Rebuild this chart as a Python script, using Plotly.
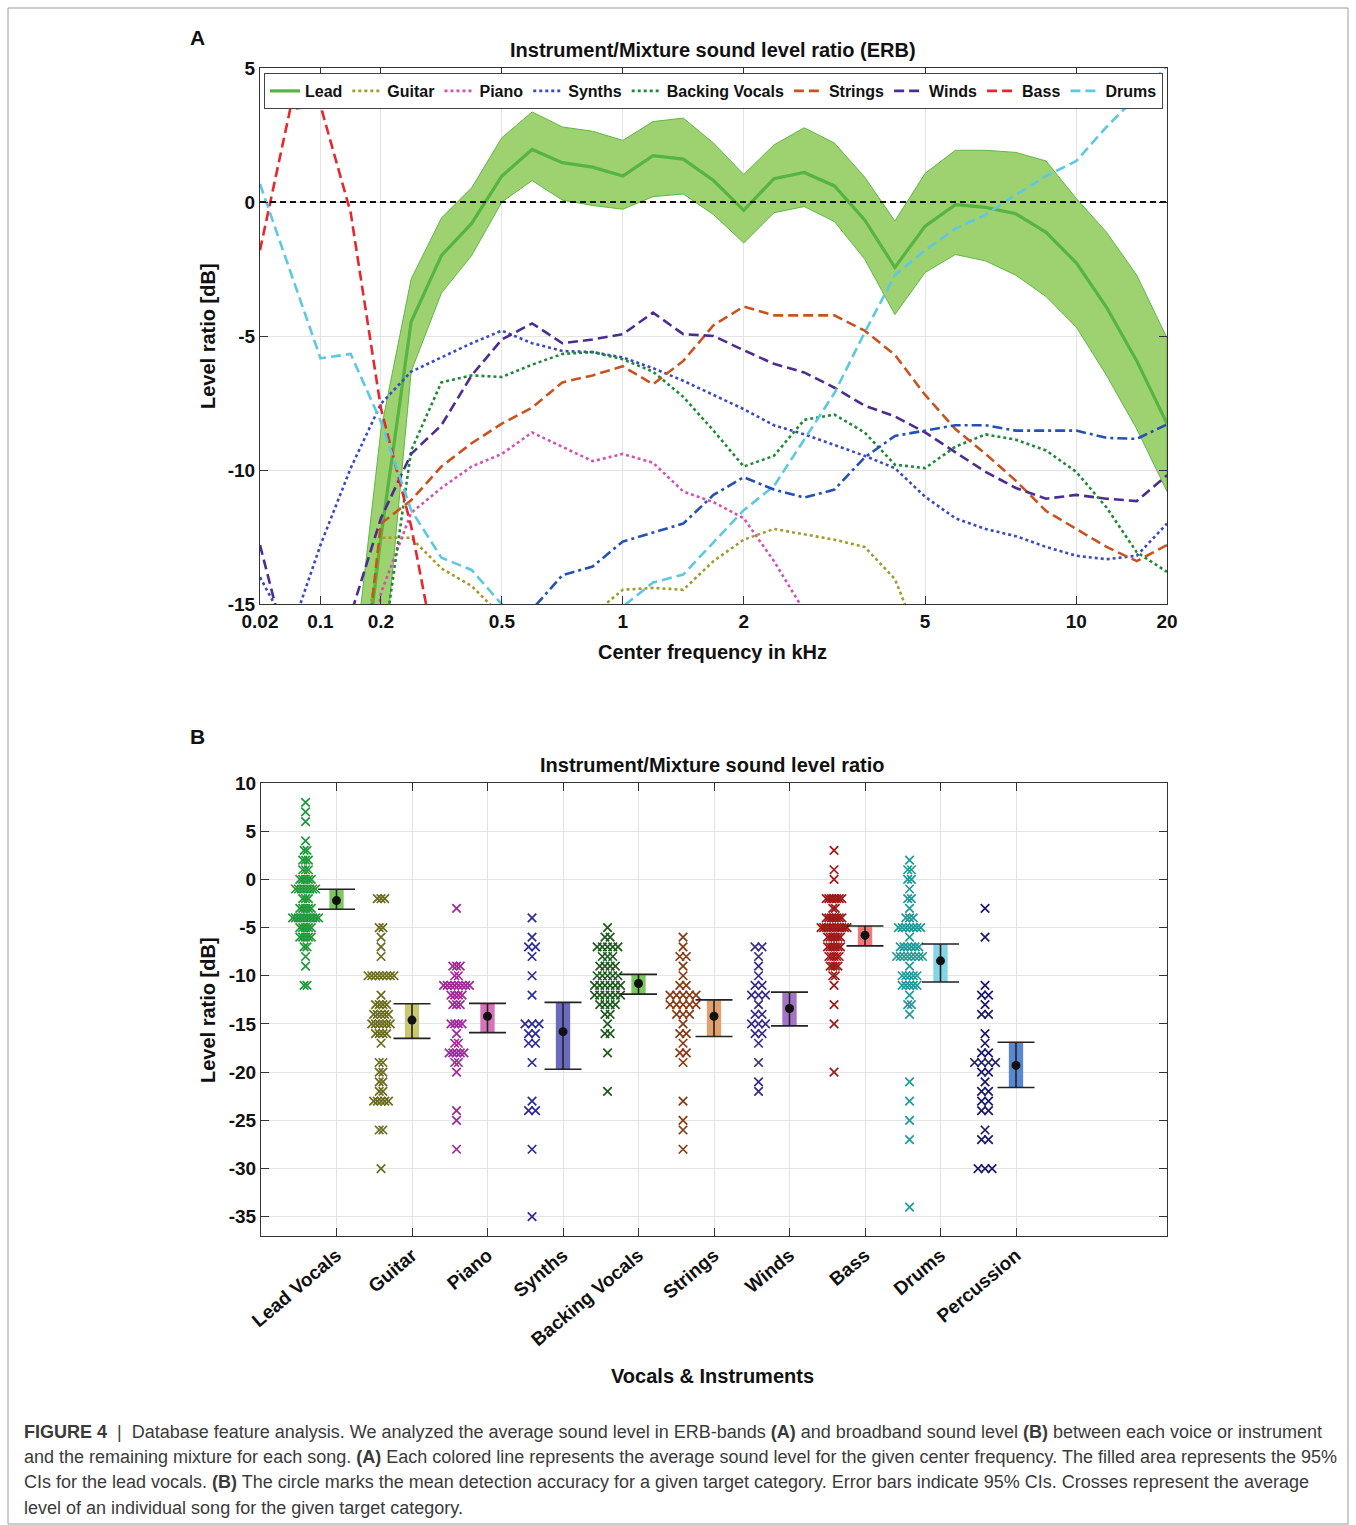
import plotly.graph_objects as go

W, H = 1356, 1525
FONT = "Liberation Sans, Arial, Helvetica, sans-serif"

# ---------------- Panel A data (ERB bands, index 0..30) ----------------
band_index = list(range(31))
freq_tick_pos = [0, 2, 4, 8, 12, 16, 22, 27, 30]
freq_tick_text = ["0.02", "0.1", "0.2", "0.5", "1", "2", "5", "10", "20"]
level_ticks_A = [-15, -10, -5, 0, 5]
level_ticks_A_text = ["-15", "-10", "-5", "0", "5"]

lead_mean = [None, None, None, -21.8, -12.5, -4.47, -2.0, -0.8, 0.97, 1.96, 1.47, 1.3, 0.97, 1.73, 1.6, 0.8,
             -0.31, 0.87, 1.1, 0.6, -0.67, -2.44, -0.9, -0.1, -0.2, -0.44, -1.13, -2.27, -3.93, -5.93, -8.27]
lead_upper = [None, None, None, -18.4, -8.5, -2.87, -0.6, 0.53, 2.4, 3.36, 2.8, 2.64, 2.3, 3.0, 3.13, 2.2,
              1.03, 2.13, 2.77, 2.2, 0.93, -0.71, 1.07, 1.93, 1.93, 1.85, 1.53, 0.13, -1.13, -2.73, -5.07]
lead_lower = [None, None, None, -26.0, -18.4, -6.33, -3.4, -2.0, 0.0, 0.8, 0.07, -0.13, -0.27, 0.2, 0.3, -0.47,
              -1.53, -0.4, -0.17, -0.73, -2.13, -4.2, -2.63, -1.96, -2.2, -2.73, -3.53, -4.67, -6.47, -8.47, -10.8]
guitar = [None, None, None, -20.0, -12.53, -12.53, -13.67, -14.33, -15.45, -16.5, -16.5, -15.4, -14.47, -14.4,
          -14.47, -13.4, -12.6, -12.2, -12.4, -12.6, -12.87, -14.07, -16.9, None, None, None, None, None, None,
          None, None]
piano = [None, None, None, -22.0, -14.6, -11.6, -10.67, -9.87, -9.4, -8.6, -9.13, -9.67, -9.4, -9.73, -10.8,
         -11.2, -11.8, -13.4, -15.26, None, None, None, None, None, None, None, None, None, None, None, None]
synths = [-14.0, -16.1, -12.8, -9.93, -7.53, -6.33, -5.8, -5.27, -4.8, -5.27, -5.56, -5.6, -5.8, -6.2, -6.67,
          -7.2, -7.73, -8.33, -8.67, -9.07, -9.47, -9.93, -11.0, -11.8, -12.2, -12.47, -12.87, -13.2, -13.33,
          -13.2, -12.0]
backing_vocals = [None, None, None, None, -17.2, -9.27, -6.73, -6.47, -6.53, -6.07, -5.67, -5.6, -5.87, -6.33,
                  -7.27, -8.53, -9.87, -9.47, -8.13, -7.93, -8.6, -9.8, -9.93, -9.13, -8.67, -8.87, -9.27,
                  -10.07, -11.4, -13.07, -13.8]
strings = [None, None, None, -22.0, -12.0, -11.13, -9.87, -9.0, -8.27, -7.67, -6.73, -6.47, -6.13, -6.8, -5.93,
           -4.6, -3.9, -4.23, -4.23, -4.23, -4.8, -5.7, -7.2, -8.47, -9.4, -10.4, -11.53, -12.2, -12.87, -13.4,
           -12.8]
winds = [-12.8, -17.2, -18.0, -15.4, -11.8, -9.4, -8.33, -6.47, -5.13, -4.53, -5.27, -5.13, -4.93, -4.13, -4.93,
         -5.0, -5.53, -6.04, -6.36, -6.93, -7.6, -8.0, -8.6, -9.33, -10.07, -10.67, -11.07, -10.93, -11.07,
         -11.16, -10.2]
bass = [-1.8, 3.47, 3.6, -0.4, -7.7, -12.1, -18.0, None, None, None, None, None, None, None, None, None, None,
        None, None, None, None, None, None, None, None, None, None, None, None, None, None]
drums = [0.67, -2.6, -5.83, -5.67, -8.2, -11.5, -13.27, -13.73, -15.0, -16.3, -16.8, -16.0, -15.1, -14.2, -13.9,
         -12.7, -11.5, -10.6, -8.87, -7.13, -4.87, -2.73, -1.8, -1.0, -0.47, 0.27, 0.97, 1.53, 2.8, 3.93, 5.07]
percussion = [None, None, None, None, None, None, None, None, -17.0, -15.2, -13.93, -13.6, -12.67, -12.33, -12.0,
              -10.93, -10.27, -10.73, -11.03, -10.73, -9.53, -8.73, -8.53, -8.33, -8.33, -8.53, -8.53, -8.53,
              -8.8, -8.84, -8.3]

# ---------------- Panel B data ----------------
categories = ["Lead Vocals", "Guitar", "Piano", "Synths", "Backing Vocals",
              "Strings", "Winds", "Bass", "Drums", "Percussion"]
cat_pos = [1, 2, 3, 4, 5, 6, 7, 8, 9, 10]
level_ticks_B = [-35, -30, -25, -20, -15, -10, -5, 0, 5, 10]
level_ticks_B_text = ["-35", "-30", "-25", "-20", "-15", "-10", "-5", "0", "5", "10"]

lead_levels = [8, 7, 6, 4, 3, 2, 1, 0, -1, -2, -3, -4, -5, -6, -7, -8, -9, -11]
lead_counts = [1, 1, 1, 1, 2, 3, 3, 5, 8, 3, 5, 10, 5, 5, 2, 1, 1, 2]
guitar_levels = [-2, -5, -6, -7, -8, -10, -12, -13, -14, -15, -16, -17, -19, -20, -21, -22, -23, -26, -30]
guitar_counts = [3, 2, 1, 1, 1, 8, 1, 4, 5, 6, 4, 1, 2, 2, 2, 2, 5, 2, 1]
piano_levels = [-3, -9, -10, -11, -12, -13, -15, -16, -17, -18, -19, -20, -24, -25, -28]
piano_counts = [1, 3, 2, 8, 4, 3, 4, 1, 2, 5, 2, 1, 1, 1, 1]
synths_levels = [-4, -6, -7, -8, -10, -12, -15, -16, -17, -19, -23, -24, -28, -35]
synths_counts = [1, 1, 2, 1, 1, 1, 3, 2, 2, 1, 1, 2, 1, 1]
bv_levels = [-5, -6, -7, -8, -9, -10, -11, -12, -13, -14, -15, -16, -18, -22]
bv_counts = [1, 2, 5, 3, 4, 5, 6, 6, 4, 2, 1, 2, 1, 1]
strings_levels = [-6, -7, -8, -9, -10, -11, -12, -13, -14, -15, -16, -17, -18, -19, -23, -25, -26, -28]
strings_counts = [1, 1, 2, 1, 1, 2, 5, 5, 3, 1, 2, 1, 2, 1, 1, 1, 1, 1]
winds_levels = [-7, -8, -9, -10, -11, -12, -13, -14, -15, -16, -17, -19, -21, -22]
winds_counts = [2, 1, 1, 1, 2, 3, 1, 2, 3, 2, 1, 1, 1, 1]
bass_levels = [3, 1, 0, -2, -3, -4, -5, -6, -7, -8, -9, -10, -11, -13, -15, -20]
bass_counts = [1, 1, 1, 7, 2, 7, 11, 6, 6, 5, 4, 2, 1, 1, 1, 1]
drums_levels = [2, 1, 0, -1, -2, -3, -4, -5, -6, -7, -8, -9, -10, -11, -12, -13, -14, -21, -23, -25, -27, -34]
drums_counts = [1, 2, 2, 1, 2, 1, 3, 7, 1, 6, 8, 1, 5, 5, 1, 2, 1, 1, 1, 1, 1, 1]
perc_levels = [-3, -6, -11, -12, -13, -14, -16, -17, -18, -19, -20, -21, -22, -23, -24, -26, -27, -30]
perc_counts = [1, 1, 1, 2, 1, 2, 1, 1, 2, 4, 2, 1, 2, 2, 2, 1, 2, 3]

mean_level = [-2.2, -14.6, -14.2, -15.8, -10.8, -14.2, -13.4, -5.8, -8.45, -19.3]
ci_high = [-1.03, -12.9, -12.86, -12.76, -9.86, -12.5, -11.7, -4.83, -6.7, -16.9]
ci_low = [-3.1, -16.5, -15.9, -19.7, -11.9, -16.3, -15.2, -6.9, -10.65, -21.6]

# ---------------- styles ----------------
line_styles = [
    ("Guitar", guitar, "#A39C2C", "3px,3px"),
    ("Piano", piano, "#D451B4", "3px,3px"),
    ("Synths", synths, "#3A4AC6", "3px,3px"),
    ("Backing Vocals", backing_vocals, "#1E8A36", "3px,3px"),
    ("Strings", strings, "#C9531E", "10px,5px"),
    ("Winds", winds, "#4B2D92", "10px,5px"),
    ("Bass", bass, "#E8262B", "10px,5px"),
    ("Drums", drums, "#5CC8E2", "10px,5px"),
]
cross_colors = ["#1E9A3A", "#6B6B1E", "#A0289A", "#2A2A9A", "#1E5A1E",
                "#8A3A12", "#3A2A8A", "#A01818", "#1E9A9A", "#1A1A6A"]
bar_colors = ["#7CC860", "#C9C870", "#D574B6", "#6A6AC0", "#7CC860",
              "#E0A070", "#A274C4", "#F07878", "#84D6E6", "#5A88D0"]
level_lists = [lead_levels, guitar_levels, piano_levels, synths_levels, bv_levels,
               strings_levels, winds_levels, bass_levels, drums_levels, perc_levels]
count_lists = [lead_counts, guitar_counts, piano_counts, synths_counts, bv_counts,
               strings_counts, winds_counts, bass_counts, drums_counts, perc_counts]

# layout geometry (pixels)
A_L, A_R, A_T, A_B = 260, 1167, 68, 604
B_L, B_R, B_T, B_B = 261, 1167, 783, 1236
B_XMAX = 12
px_per_unit_B = (B_R - B_L) / B_XMAX
cross_offset = -0.41


def px(x):
    return x / W


def py(y):
    return 1 - y / H


fig = go.Figure()

# ---- Panel A traces ----
valid = [i for i in band_index if lead_upper[i] is not None]
fig.add_trace(go.Scatter(
    x=[band_index[i] for i in valid] + [band_index[i] for i in reversed(valid)],
    y=[lead_upper[i] for i in valid] + [lead_lower[i] for i in reversed(valid)],
    fill="toself", fillcolor="#9ED16F", line=dict(color="#5DB847", width=1),
    mode="lines", showlegend=False, hoverinfo="skip", xaxis="x", yaxis="y"))
fig.add_trace(go.Scatter(x=band_index, y=lead_mean, name="Lead", mode="lines",
                         line=dict(color="#56B443", width=3.2), xaxis="x", yaxis="y"))
for name, vals, col, dash in line_styles:
    fig.add_trace(go.Scatter(x=band_index, y=vals, name=name, mode="lines",
                             line=dict(color=col, width=2.6, dash=dash), xaxis="x", yaxis="y"))
fig.add_trace(go.Scatter(x=band_index, y=percussion, name="Percussion", mode="lines", showlegend=False,
                         line=dict(color="#2550B4", width=2.6, dash="10px,4px,3px,4px"),
                         xaxis="x", yaxis="y"))

# ---- Panel B traces ----
for k in range(len(categories)):
    levels, counts = level_lists[k], count_lists[k]
    nmax = max(counts)
    spacing_px = 7.0 if nmax <= 1 else min(7.0, 26.0 / (nmax - 1))
    xs, ys = [], []
    for v, n in zip(levels, counts):
        for j in range(n):
            xs.append(cat_pos[k] + cross_offset + (j - (n - 1) / 2) * spacing_px / px_per_unit_B)
            ys.append(v)
    fig.add_trace(go.Scatter(x=xs, y=ys, mode="markers", showlegend=False, xaxis="x2", yaxis="y2",
                             marker=dict(symbol="x-thin", size=8.5,
                                         line=dict(color=cross_colors[k], width=1.7))))

fig.add_trace(go.Bar(x=cat_pos, y=[h - l for h, l in zip(ci_high, ci_low)], base=ci_low, width=0.19,
                     marker=dict(color=bar_colors, line=dict(width=0)), showlegend=False,
                     xaxis="x2", yaxis="y2"))
fig.add_trace(go.Scatter(x=cat_pos, y=mean_level, mode="markers", showlegend=False, xaxis="x2", yaxis="y2",
                         marker=dict(color="#111111", size=9),
                         error_y=dict(type="data", symmetric=False,
                                      array=[h - m for h, m in zip(ci_high, mean_level)],
                                      arrayminus=[m - l for m, l in zip(mean_level, ci_low)],
                                      width=18.5, thickness=1.6, color="#222222")))

axis_common = dict(showline=True, mirror="ticks", linecolor="#333333", linewidth=1,
                   ticks="inside", ticklen=8, tickcolor="#333333", tickwidth=1, automargin=False,
                   showgrid=True, gridcolor="#E4E4E4", gridwidth=1, zeroline=False,
                   tickfont=dict(family=FONT, size=19, color="#111111", weight="bold"))

fig.update_layout(
    template="none",
    width=W, height=H, margin=dict(l=0, r=0, t=0, b=0, pad=0, autoexpand=False),
    paper_bgcolor="white", plot_bgcolor="white", barmode="overlay",
    font=dict(family=FONT, color="#111111"),
    xaxis=dict(domain=[px(A_L), px(A_R)], range=[0, 30], tickvals=freq_tick_pos, ticktext=freq_tick_text,
               anchor="y", **axis_common),
    yaxis=dict(domain=[py(A_B), py(A_T)], range=[-15, 5], tickvals=level_ticks_A,
               ticktext=level_ticks_A_text, anchor="x", **axis_common),
    xaxis2=dict(domain=[px(B_L), px(B_R)], range=[0, B_XMAX], tickvals=cat_pos, ticktext=categories,
                tickangle=-40, anchor="y2", **axis_common),
    yaxis2=dict(domain=[py(B_B), py(B_T)], range=[-37, 10], tickvals=level_ticks_B,
                ticktext=level_ticks_B_text, anchor="x2", **axis_common),
    legend=dict(orientation="h", x=px(264), y=py(73), xanchor="left", yanchor="top",
                bgcolor="white", bordercolor="#444444", borderwidth=1,
                font=dict(family=FONT, size=16, color="#111111", weight="bold"),
                itemwidth=30, tracegroupgap=0),
    showlegend=True,
)

fig.add_hline(y=0, line=dict(color="#111111", width=2, dash="6px,4px"), xref="x", yref="y", layer="above")

# border around the figure
fig.add_shape(type="rect", xref="paper", yref="paper", x0=px(8), x1=px(1348), y0=py(1524), y1=py(8),
              line=dict(color="#9A9A9A", width=1), layer="below")


def label(text, x, y, size, angle=0, xanchor="center", weight="bold", color="#111111"):
    fig.add_annotation(text=text, x=px(x), y=py(y), xref="paper", yref="paper", showarrow=False,
                       xanchor=xanchor, yanchor="middle", textangle=angle,
                       font=dict(family=FONT, size=size, color=color, weight=weight))


label("A", 197, 38, 21)
label("Instrument/Mixture sound level ratio (ERB)", 713, 50, 20)
label("Level ratio [dB]", 208, 336, 20, angle=-90)
label("Center frequency in kHz", 713, 652, 20)
label("B", 197, 737, 21)
label("Instrument/Mixture sound level ratio", 713, 765, 20)
label("Level ratio [dB]", 208, 1010, 20, angle=-90)
label("Vocals & Instruments", 713, 1376, 20)

caption_lines = [
    "<b>FIGURE 4</b>  |  Database feature analysis. We analyzed the average sound level in ERB-bands <b>(A)</b> "
    "and broadband sound level <b>(B)</b> between each voice or instrument",
    "and the remaining mixture for each song. <b>(A)</b> Each colored line represents the average sound level "
    "for the given center frequency. The filled area represents the 95%",
    "CIs for the lead vocals. <b>(B)</b> The circle marks the mean detection accuracy for a given target category. "
    "Error bars indicate 95% CIs. Crosses represent the average",
    "level of an individual song for the given target category.",
]
for i, t in enumerate(caption_lines):
    label(t, 22, 1432 + i * 25.2, 18, xanchor="left", weight="normal", color="#3A3A3A")

fig.write_html("out.html", config={"displayModeBar": False},
               post_script="document.body.style.margin='0';")
